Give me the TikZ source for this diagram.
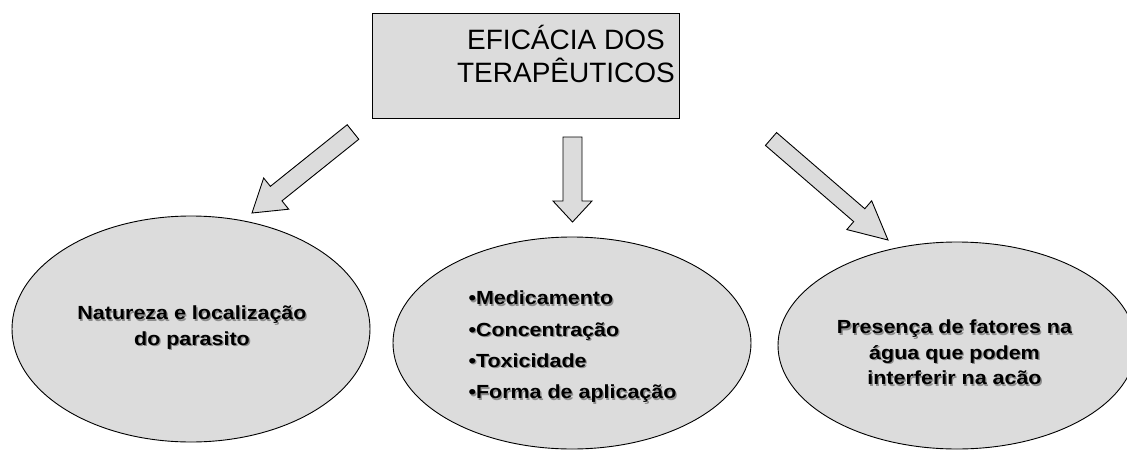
\documentclass[tikz,border=0pt]{standalone}
\usepackage{fontspec}
\setmainfont{Liberation Sans}
\newfontfamily\ovalfont[FakeStretch=1.13]{Liberation Sans}
\usetikzlibrary{calc,shapes.geometric}

\definecolor{fillgray}{HTML}{DCDCDC}
\definecolor{shadegray}{HTML}{8C8C8C}

\tikzset{
  titlebox/.style={draw, line width=1pt, fill=fillgray, inner sep=0pt},
  oval/.style={ellipse, draw, line width=0.9pt, fill=fillgray, inner sep=0pt},
  ovaltext/.style={font=\ovalfont\bfseries\fontsize{19}{25.5}\selectfont, align=center, inner sep=0pt},
  listtext/.style={ovaltext, font=\ovalfont\bfseries\fontsize{19}{31.3}\selectfont, align=left},
  shade/.style={text=shadegray, xshift=1.3pt, yshift=-1.3pt},
  fat/.style={draw, line width=0.9pt, fill=fillgray, line join=miter},
}

% block arrow: start, tip, half shaft, half head, head length
\newcommand{\fatarrow}[5]{%
  \coordinate (hb) at ($(#2)!#5!(#1)$);
  \draw[fat] ($(#1)!#3!90:(#2)$) -- ($(hb)!#3!90:(#2)$) -- ($(hb)!#4!90:(#2)$)
    -- (#2) -- ($(hb)!#4!-90:(#2)$) -- ($(hb)!#3!-90:(#2)$) -- ($(#1)!#3!-90:(#2)$) -- cycle;
}

\begin{document}
\begin{tikzpicture}[x=1pt,y=-1pt]
\useasboundingbox (0,0) rectangle (1127,450);

% title
\node[titlebox, minimum width=307pt, minimum height=105pt] (title) at (525.5,65.5) {};
\node[font=\fontsize{28}{33}\selectfont, align=center, inner sep=0pt] (titletxt) at (566,53.5)
  {EFICÁCIA DOS\\TERAPÊUTICOS};

% the three ovals
\node[oval, minimum width=358pt, minimum height=226pt] (parasito) at (191,329) {};
\node[oval, minimum width=358pt, minimum height=212pt] (remedio) at (572,343) {};
\node[oval, minimum width=358pt, minimum height=207pt] (agua) at (957,345.5) {};

\node[ovaltext, shade] at (192,327.8) {Natureza e localização\\do parasito};
\node[ovaltext] (parasitotxt) at (192,327.8) {Natureza e localização\\do parasito};

\node[listtext, shade] at (572.5,347) {•Medicamento\\•Concentração\\•Toxicidade\\•Forma de aplicação};
\node[listtext] (remediotxt) at (572.5,347) {•Medicamento\\•Concentração\\•Toxicidade\\•Forma de aplicação};

\node[ovaltext, shade] at (954.5,352.5) {Presença de fatores na\\água que podem\\interferir na acão};
\node[ovaltext] (aguatxt) at (954.5,352.5) {Presença de fatores na\\água que podem\\interferir na acão};

% arrows
\coordinate (arrL-s) at (353,132);
\coordinate (arrL-e) at (252,213);
\coordinate (arrM-s) at (572.5,137);
\coordinate (arrM-e) at (572.5,222);
\coordinate (arrR-s) at (771,139);
\coordinate (arrR-e) at (888,240);
\fatarrow{arrL-s}{arrL-e}{9.3pt}{20pt}{31pt}
\fatarrow{arrM-s}{arrM-e}{9.5pt}{19.5pt}{21pt}
\fatarrow{arrR-s}{arrR-e}{8.5pt}{19pt}{38pt}
\end{tikzpicture}
\end{document}
